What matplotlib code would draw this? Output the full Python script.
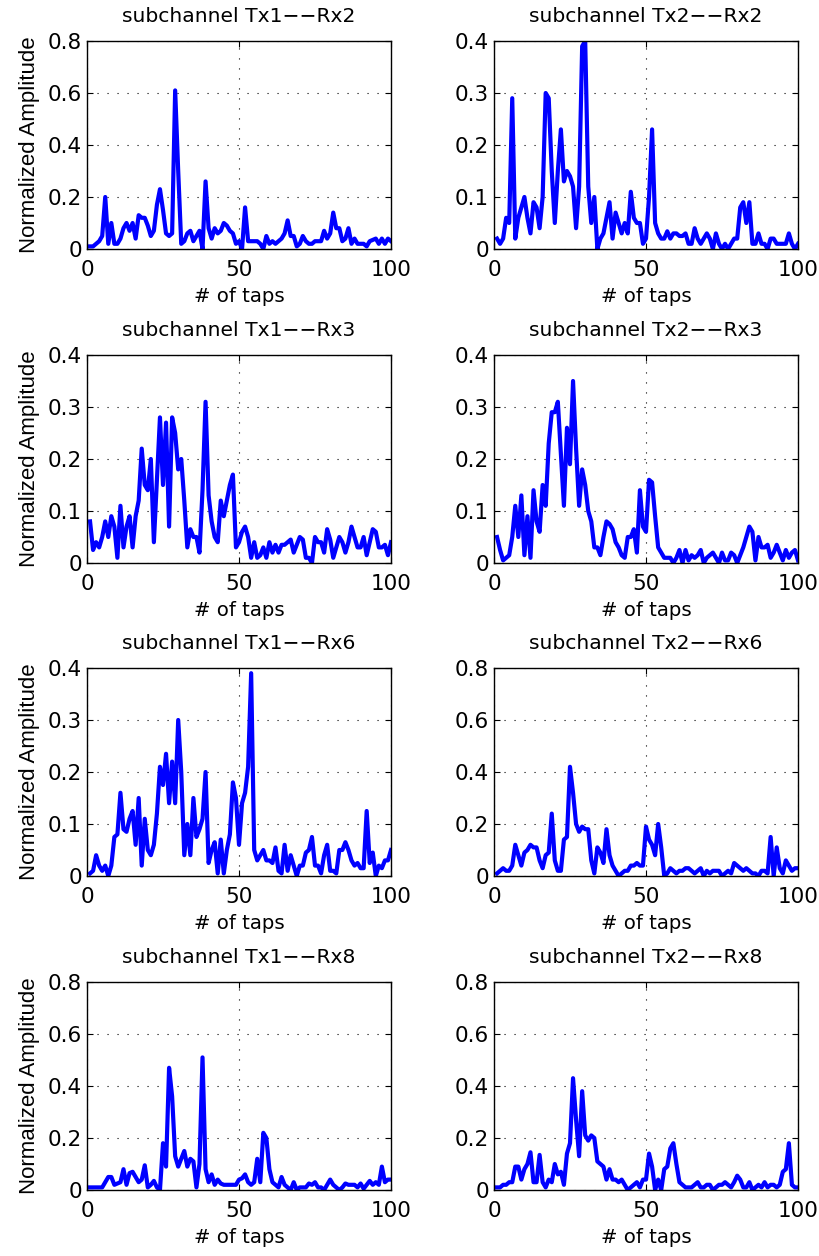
import numpy as np
import matplotlib
matplotlib.use("Agg")
import matplotlib.pyplot as plt
from matplotlib.ticker import FuncFormatter

plt.rcParams['font.family'] = ['DejaVu Sans']

taps = np.arange(1, 101)

tx1_rx2 = [0.01, 0.01, 0.02, 0.03, 0.05, 0.20, 0.02, 0.10, 0.02, 0.02,
           0.04, 0.08, 0.10, 0.07, 0.10, 0.04, 0.13, 0.12, 0.12, 0.09,
           0.05, 0.07, 0.17, 0.23, 0.15, 0.06, 0.05, 0.06, 0.61, 0.30,
           0.02, 0.03, 0.06, 0.07, 0.03, 0.05, 0.07, 0.00, 0.26, 0.08,
           0.04, 0.08, 0.06, 0.07, 0.10, 0.09, 0.07, 0.06, 0.02, 0.03,
           0.00, 0.16, 0.03, 0.03, 0.03, 0.03, 0.02, 0.00, 0.05, 0.02,
           0.03, 0.02, 0.03, 0.04, 0.06, 0.11, 0.05, 0.05, 0.01, 0.02,
           0.05, 0.03, 0.02, 0.02, 0.03, 0.03, 0.03, 0.07, 0.04, 0.06,
           0.14, 0.08, 0.08, 0.03, 0.04, 0.08, 0.02, 0.04, 0.02, 0.02,
           0.02, 0.01, 0.03, 0.035, 0.04, 0.02, 0.04, 0.02, 0.04, 0.03]

tx2_rx2 = [0.02, 0.01, 0.02, 0.06, 0.05, 0.29, 0.02, 0.06, 0.08, 0.10,
           0.06, 0.03, 0.09, 0.08, 0.04, 0.10, 0.30, 0.29, 0.15, 0.05,
           0.15, 0.23, 0.13, 0.15, 0.14, 0.12, 0.04, 0.12, 0.39, 0.40,
           0.12, 0.05, 0.10, 0.00, 0.02, 0.03, 0.06, 0.09, 0.02, 0.07,
           0.05, 0.03, 0.05, 0.03, 0.11, 0.06, 0.05, 0.05, 0.01, 0.02,
           0.10, 0.23, 0.05, 0.03, 0.02, 0.02, 0.034, 0.02, 0.03, 0.03,
           0.025, 0.025, 0.03, 0.01, 0.01, 0.04, 0.02, 0.01, 0.02, 0.03,
           0.02, 0.00, 0.03, 0.01, 0.00, 0.01, 0.00, 0.01, 0.02, 0.02,
           0.08, 0.09, 0.05, 0.09, 0.01, 0.01, 0.03, 0.01, 0.01, 0.00,
           0.02, 0.02, 0.01, 0.01, 0.01, 0.01, 0.03, 0.01, 0.00, 0.01]

tx1_rx3 = [0.08, 0.025, 0.04, 0.03, 0.05, 0.08, 0.05, 0.09, 0.07, 0.01,
           0.11, 0.03, 0.07, 0.09, 0.03, 0.09, 0.12, 0.22, 0.15, 0.14,
           0.20, 0.04, 0.16, 0.28, 0.15, 0.27, 0.07, 0.28, 0.25, 0.18,
           0.20, 0.12, 0.03, 0.065, 0.05, 0.05, 0.02, 0.14, 0.31, 0.13,
           0.08, 0.05, 0.04, 0.12, 0.09, 0.12, 0.15, 0.17, 0.03, 0.04,
           0.06, 0.07, 0.05, 0.01, 0.04, 0.01, 0.015, 0.03, 0.01, 0.04,
           0.02, 0.035, 0.02, 0.035, 0.035, 0.04, 0.045, 0.02, 0.035, 0.05,
           0.045, 0.01, 0.01, 0.00, 0.05, 0.04, 0.04, 0.02, 0.065, 0.045,
           0.01, 0.03, 0.05, 0.04, 0.02, 0.04, 0.07, 0.05, 0.03, 0.03,
           0.05, 0.015, 0.04, 0.065, 0.06, 0.03, 0.03, 0.035, 0.015, 0.04]

tx2_rx3 = [0.05, 0.025, 0.005, 0.01, 0.015, 0.05, 0.11, 0.05, 0.13, 0.015,
           0.09, 0.01, 0.14, 0.08, 0.06, 0.15, 0.11, 0.23, 0.29, 0.29,
           0.31, 0.21, 0.11, 0.26, 0.19, 0.35, 0.22, 0.11, 0.18, 0.15,
           0.10, 0.08, 0.03, 0.03, 0.015, 0.05, 0.08, 0.075, 0.065, 0.04,
           0.03, 0.015, 0.01, 0.05, 0.05, 0.065, 0.02, 0.14, 0.07, 0.06,
           0.16, 0.155, 0.09, 0.03, 0.02, 0.01, 0.01, 0.01, 0.00, 0.01,
           0.025, 0.00, 0.025, 0.005, 0.015, 0.01, 0.015, 0.025, 0.00, 0.01,
           0.015, 0.02, 0.01, 0.00, 0.02, 0.005, 0.005, 0.02, 0.015, 0.00,
           0.015, 0.03, 0.05, 0.07, 0.06, 0.005, 0.05, 0.03, 0.03, 0.035,
           0.01, 0.02, 0.035, 0.02, 0.005, 0.025, 0.01, 0.02, 0.025, 0.005]

tx1_rx6 = [0.005, 0.01, 0.04, 0.02, 0.01, 0.02, 0.00, 0.02, 0.075, 0.08,
           0.16, 0.09, 0.085, 0.11, 0.125, 0.06, 0.15, 0.02, 0.11, 0.05,
           0.04, 0.06, 0.12, 0.21, 0.175, 0.235, 0.14, 0.22, 0.14, 0.30,
           0.20, 0.04, 0.10, 0.04, 0.15, 0.075, 0.09, 0.11, 0.20, 0.025,
           0.05, 0.065, 0.005, 0.07, 0.005, 0.05, 0.08, 0.18, 0.15, 0.06,
           0.14, 0.16, 0.21, 0.39, 0.05, 0.03, 0.04, 0.05, 0.03, 0.03,
           0.025, 0.055, 0.01, 0.005, 0.06, 0.01, 0.04, 0.02, 0.00, 0.02,
           0.02, 0.045, 0.05, 0.075, 0.02, 0.02, 0.005, 0.04, 0.06, 0.01,
           0.01, 0.005, 0.05, 0.05, 0.065, 0.05, 0.03, 0.02, 0.025, 0.015,
           0.015, 0.125, 0.025, 0.045, 0.00, 0.02, 0.015, 0.03, 0.03, 0.05]

tx2_rx6 = [0.01, 0.02, 0.03, 0.02, 0.02, 0.04, 0.12, 0.08, 0.04, 0.09,
           0.10, 0.12, 0.11, 0.11, 0.06, 0.03, 0.08, 0.09, 0.24, 0.06,
           0.02, 0.02, 0.14, 0.15, 0.42, 0.32, 0.20, 0.17, 0.19, 0.18,
           0.18, 0.06, 0.01, 0.11, 0.09, 0.05, 0.18, 0.08, 0.04, 0.02,
           0.00, 0.01, 0.02, 0.02, 0.04, 0.04, 0.05, 0.04, 0.04, 0.19,
           0.14, 0.12, 0.08, 0.20, 0.11, 0.00, 0.01, 0.03, 0.02, 0.01,
           0.02, 0.02, 0.03, 0.03, 0.02, 0.01, 0.02, 0.03, 0.00, 0.02,
           0.01, 0.02, 0.02, 0.02, 0.00, 0.01, 0.02, 0.01, 0.05, 0.04,
           0.03, 0.02, 0.03, 0.02, 0.01, 0.01, 0.00, 0.02, 0.02, 0.01,
           0.15, 0.00, 0.11, 0.03, 0.01, 0.06, 0.04, 0.02, 0.03, 0.03]

tx1_rx8 = [0.01, 0.01, 0.01, 0.01, 0.01, 0.03, 0.05, 0.05, 0.02, 0.025,
           0.03, 0.08, 0.02, 0.065, 0.07, 0.05, 0.03, 0.04, 0.095, 0.01,
           0.02, 0.035, 0.01, 0.00, 0.18, 0.09, 0.47, 0.36, 0.13, 0.09,
           0.12, 0.15, 0.09, 0.12, 0.11, 0.01, 0.10, 0.51, 0.08, 0.03,
           0.06, 0.02, 0.04, 0.025, 0.02, 0.02, 0.02, 0.02, 0.02, 0.04,
           0.045, 0.06, 0.03, 0.02, 0.03, 0.12, 0.03, 0.22, 0.20, 0.08,
           0.03, 0.02, 0.01, 0.05, 0.02, 0.01, 0.00, 0.03, 0.00, 0.01,
           0.01, 0.01, 0.025, 0.02, 0.03, 0.01, 0.01, 0.00, 0.02, 0.04,
           0.02, 0.01, 0.00, 0.01, 0.025, 0.02, 0.02, 0.02, 0.01, 0.025,
           0.005, 0.02, 0.035, 0.02, 0.03, 0.02, 0.09, 0.03, 0.04, 0.04]

tx2_rx8 = [0.01, 0.01, 0.02, 0.02, 0.03, 0.03, 0.09, 0.09, 0.04, 0.08,
           0.10, 0.145, 0.03, 0.03, 0.135, 0.03, 0.01, 0.04, 0.03, 0.10,
           0.06, 0.07, 0.02, 0.14, 0.18, 0.43, 0.27, 0.13, 0.38, 0.21,
           0.19, 0.21, 0.20, 0.11, 0.10, 0.09, 0.04, 0.08, 0.04, 0.04,
           0.03, 0.04, 0.02, 0.00, 0.01, 0.02, 0.03, 0.01, 0.04, 0.04,
           0.14, 0.09, 0.00, 0.04, 0.00, 0.08, 0.09, 0.16, 0.18, 0.10,
           0.03, 0.02, 0.01, 0.01, 0.01, 0.02, 0.03, 0.01, 0.01, 0.02,
           0.02, 0.00, 0.01, 0.02, 0.02, 0.03, 0.02, 0.01, 0.03, 0.055,
           0.04, 0.01, 0.01, 0.03, 0.00, 0.01, 0.02, 0.01, 0.03, 0.01,
           0.02, 0.02, 0.01, 0.02, 0.07, 0.08, 0.18, 0.02, 0.01, 0.01]

titles = ["subchannel Tx1\u2212\u2212Rx2", "subchannel Tx2\u2212\u2212Rx2",
          "subchannel Tx1\u2212\u2212Rx3", "subchannel Tx2\u2212\u2212Rx3",
          "subchannel Tx1\u2212\u2212Rx6", "subchannel Tx2\u2212\u2212Rx6",
          "subchannel Tx1\u2212\u2212Rx8", "subchannel Tx2\u2212\u2212Rx8"]
series = [tx1_rx2, tx2_rx2, tx1_rx3, tx2_rx3, tx1_rx6, tx2_rx6, tx1_rx8, tx2_rx8]
y_max = [0.8, 0.4, 0.4, 0.4, 0.4, 0.8, 0.8, 0.8]
y_step = [0.2, 0.1, 0.1, 0.1, 0.1, 0.2, 0.2, 0.2]
x_ticks = [0, 50, 100]
x_label = "# of taps"
y_label = "Normalized Amplitude"

W, H = 820, 1256
fig = plt.figure(figsize=(W / 100, H / 100), dpi=100)

col_left = [87, 494]
row_top = [41, 355, 668, 982]
ax_w, ax_h = 304, 208

fmt = FuncFormatter(lambda v, p: "%g" % round(v, 3))

for i, (vals, title) in enumerate(zip(series, titles)):
    r, c = divmod(i, 2)
    left = col_left[c] / W
    bottom = 1 - (row_top[r] + ax_h) / H
    ax = fig.add_axes([left, bottom, ax_w / W, ax_h / H])
    ax.plot(taps, vals, color=(0, 0, 1), linewidth=3.0, solid_joinstyle='round')
    ax.set_xlim(0, 100)
    ax.set_ylim(0, y_max[i])
    ax.set_xticks(x_ticks)
    ax.set_yticks(np.arange(0, y_max[i] + 1e-9, y_step[i]))
    ax.yaxis.set_major_formatter(fmt)
    ax.grid(True, color='k', linestyle=(0, (1, 8)), linewidth=0.8)
    ax.tick_params(direction='in', length=4, width=0.8, top=True, right=True,
                   labelsize=15.5)
    ax.tick_params(axis='x', pad=8)
    ax.tick_params(axis='y', pad=3.5)
    for s in ax.spines.values():
        s.set_linewidth(1.0)
    ax.set_title(title, fontsize=14.6, pad=14)
    ax.set_xlabel(x_label, fontsize=14.2, labelpad=5)
    if c == 0:
        ax.set_ylabel(y_label, fontsize=16, labelpad=6,
                      family=['Liberation Sans', 'DejaVu Sans'])

fig.savefig("out.png", dpi=100)
